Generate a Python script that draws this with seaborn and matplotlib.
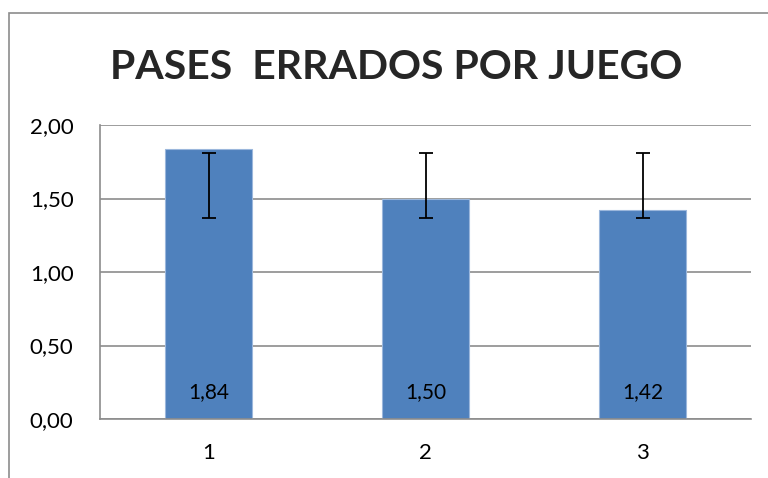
import numpy as np
import pandas as pd
import seaborn as sns
import matplotlib.pyplot as plt
from matplotlib.ticker import FuncFormatter, FixedLocator
from matplotlib.patches import Rectangle

# Data
categorias = ['1', '2', '3']
valores = [1.84, 1.50, 1.42]
error_inferior = [1.37, 1.37, 1.37]  # lower end of each error bar
error_superior = [1.81, 1.81, 1.81]  # upper end of each error bar
titulo = 'PASES  ERRADOS POR JUEGO'

sns.set_style('white')
plt.rcParams['font.family'] = ['Lato', 'DejaVu Sans']

df = pd.DataFrame({'juego': categorias, 'valor': valores})

fig = plt.figure(figsize=(7.68, 4.78), dpi=100)
# outer chart frame (Excel style), cut by the image on the right and bottom
fig.patches.append(Rectangle((9 / 768, -0.1), 1.2, 1.1 - 13 / 478, transform=fig.transFigure,
                             fill=False, edgecolor='#8c8c8c', linewidth=1.2))

ax = fig.add_axes([100 / 768, 59 / 478, 651 / 768, 294 / 478])
sns.barplot(data=df, x='juego', y='valor', color='#4F81BD', width=0.4, saturation=1,
            edgecolor='#9bb7dc', linewidth=0.8, ax=ax, zorder=2)

# error bars
centro = [(a + b) / 2 for a, b in zip(error_inferior, error_superior)]
yerr = [[c - a for c, a in zip(centro, error_inferior)], [b - c for b, c in zip(error_superior, centro)]]
ax.errorbar(np.arange(len(categorias)), centro, yerr=yerr, fmt='none', ecolor='black',
            elinewidth=1.3, capsize=5, capthick=1.3, zorder=3)

# value labels inside the bottom of each bar
for i, v in enumerate(valores):
    ax.text(i, 0.18, f'{v:.2f}'.replace('.', ','), ha='center', va='center', fontsize=15, color='black', zorder=4)

ax.set_ylim(0, 2)
ax.set_xlim(-0.5, 2.5)
ax.yaxis.set_major_locator(FixedLocator([0, 0.5, 1, 1.5, 2]))
ax.yaxis.set_major_formatter(FuncFormatter(lambda y, p: f'{y:.2f}'.replace('.', ',')))
ax.grid(axis='y', color='#8c8c8c', linewidth=1.2, zorder=0)
ax.set_axisbelow(True)
ax.set_xlabel('')
ax.set_ylabel('')
for s in ['top', 'right']:
    ax.spines[s].set_visible(False)
for s in ['left', 'bottom']:
    ax.spines[s].set_color('#8c8c8c')
    ax.spines[s].set_linewidth(1.2)
ax.tick_params(axis='both', length=0, labelsize=16, colors='black')
ax.tick_params(axis='y', pad=19)
ax.tick_params(axis='x', pad=17)

fig.text(396 / 768, 1 - 79 / 478, titulo, ha='center', va='baseline', fontsize=29.5,
         fontweight='bold')

fig.savefig('out.png', dpi=100)
